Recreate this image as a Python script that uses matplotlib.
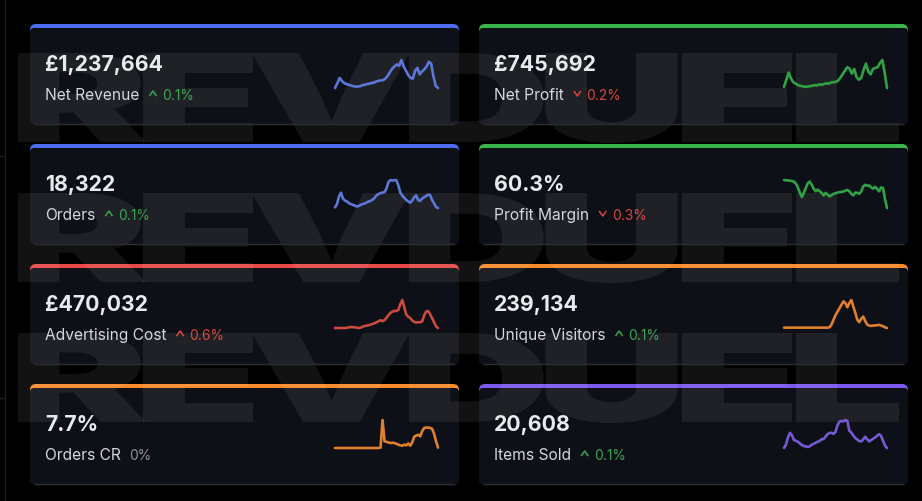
import matplotlib
matplotlib.use("Agg")
import matplotlib.pyplot as plt
from matplotlib.patches import FancyBboxPatch
from matplotlib.transforms import Affine2D
import matplotlib.patheffects as pe
import numpy as np

W, H = 922, 502

# ---------------- data ----------------
titles = ["Net Revenue", "Net Profit", "Orders", "Profit Margin",
          "Advertising Cost", "Unique Visitors", "Orders CR", "Items Sold"]
values = ["£1,237,664", "£745,692", "18,322", "60.3%",
          "£470,032", "239,134", "7.7%", "20,608"]
changes = ["0.1%", "0.2%", "0.1%", "0.3%", "0.6%", "0.1%", "0%", "0.1%"]
directions = ["up", "down", "up", "down", "up", "up", "flat", "up"]
change_tone = ["good", "bad", "good", "bad", "bad", "good", "neutral", "good"]

net_revenue = [2, 15, 30, 22, 16, 13, 11, 9, 7, 6, 6, 7, 10, 11, 13, 14, 16, 17, 20, 22,
               23, 24, 28, 36, 46, 56, 62, 68, 64, 80, 62, 50, 38, 30, 28, 50, 58, 40, 48,
               54, 62, 75, 70, 35, 8, 2]
net_profit = [5, 25, 45, 28, 18, 14, 10, 8, 7, 5, 6, 7, 8, 10, 9, 12, 11, 13, 15, 14, 17,
              18, 19, 22, 30, 40, 50, 60, 56, 42, 55, 32, 25, 30, 52, 70, 48, 40, 55, 58,
              60, 72, 80, 45, 2]
orders = [5, 15, 38, 50, 32, 26, 23, 18, 15, 13, 10, 8, 9, 13, 15, 17, 20, 23, 25, 29, 34,
          42, 46, 49, 50, 52, 63, 83, 89, 87, 89, 88, 72, 50, 41, 34, 28, 23, 19, 26, 36,
          42, 27, 25, 32, 36, 40, 44, 43, 28, 17, 6, 3]
profit_margin = [90, 89, 89, 88, 87, 85, 79, 67, 50, 37, 50, 65, 80, 85, 75, 63, 55, 60,
                 55, 50, 42, 50, 45, 39, 43, 47, 49, 51, 52, 53, 54, 57, 59, 55, 47, 42,
                 51, 50, 47, 55, 70, 75, 72, 73, 67, 63, 69, 62, 55, 67, 65, 30, 3]
advertising_cost = [5, 5, 5, 5, 5, 5, 5.5, 7, 8, 7.5, 7, 6, 5, 6, 9, 11, 12, 13, 15, 17,
                    19, 22, 25, 28, 25, 28, 35, 43, 49, 53, 55, 55, 58, 75, 87, 65, 44, 38,
                    34, 27, 23, 21, 22, 22, 24, 42, 53, 55, 46, 34, 22, 10, 5]
unique_visitors = [4, 4, 4, 4, 4, 4, 4, 4, 4, 4, 4, 4, 4, 4, 4, 4, 4, 4, 4, 4, 4, 4, 4, 5,
                   13, 27, 40, 50, 60, 70, 80, 75, 63, 75, 84, 65, 47, 27, 20, 30, 36, 23,
                   13, 10, 9, 10, 10.5, 11, 12, 10, 8, 5, 3]
orders_cr = [4, 4, 4, 4, 4, 4, 4, 4, 4, 4, 4, 4, 4, 4, 4, 4, 4, 4, 4, 4, 4, 4, 4, 5, 78,
             22, 20, 19, 17, 18, 17, 15, 13, 11, 10, 13, 11, 16, 10, 19, 34, 37, 39, 35,
             48, 57, 58, 58, 57, 55, 42, 22, 5]
items_sold = [3, 13, 35, 49, 42, 27, 25, 22, 17, 12, 9, 8, 6, 8, 13, 16, 19, 22, 24, 30,
              30, 38, 45, 49, 49, 46, 52, 72, 83, 85, 84, 88, 85, 55, 50, 41, 33, 29, 24,
              23, 29, 37, 30, 23, 27, 31, 35, 40, 45, 40, 25, 10, 3]

series = [net_revenue, net_profit, orders, profit_margin,
          advertising_cost, unique_visitors, orders_cr, items_sold]

# ---------------- style ----------------
accent_bar = ["#4f6cf0", "#3bb44a", "#4f6cf0", "#3bb44a",
              "#e84848", "#fa8a2a", "#fa8a2a", "#7b58ee"]
accent_line = ["#5d77d8", "#31a146", "#5d77d8", "#31a146",
               "#c94b3d", "#e0802f", "#e0802f", "#7759d4"]
tone_color = {"good": "#3aa552", "bad": "#d9473f", "neutral": "#8c929b"}

CARD_BG = "#0d1016"
FONT = ["Inter", "DejaVu Sans"]

col_x = [30, 479]
row_y = [25, 145, 265, 385]
card_w, card_h = 429, 100


class HStretch(pe.AbstractPathEffect):
    """Stretch a text horizontally about a fixed display x."""
    def __init__(self, sx, cx):
        super().__init__()
        self.sx = sx
        self.cx = cx

    def draw_path(self, renderer, gc, tpath, affine, rgbFace=None):
        a = affine + Affine2D().translate(-self.cx, 0).scale(self.sx, 1).translate(self.cx, 0)
        renderer.draw_path(gc, tpath, a, rgbFace)


fig = plt.figure(figsize=(W / 100, H / 100), dpi=100, facecolor="black")
bg = fig.add_axes([0, 0, 1, 1])
bg.set_xlim(0, W)
bg.set_ylim(H, 0)
bg.axis("off")

# left edge guide line and small ticks
bg.plot([4.5, 4.5], [0, H], color="#1b2027", lw=0.9, zorder=0.2)
for ty in [157, 399]:
    bg.plot([0, 4.5], [ty, ty], color="#1b2027", lw=0.9, zorder=0.2)

renderer = fig.canvas.get_renderer()

# ---------------- cards ----------------
for i in range(8):
    r, c = divmod(i, 2)
    x0, y0 = col_x[c], row_y[r]
    bar = FancyBboxPatch((x0, y0), card_w, card_h,
                         boxstyle="round,pad=0,rounding_size=6",
                         fc=accent_bar[i], ec="none", zorder=1)
    body = FancyBboxPatch((x0, y0 + 4), card_w, card_h - 4,
                          boxstyle="round,pad=0,rounding_size=4",
                          fc=CARD_BG, ec="none", zorder=1.1)
    bg.add_patch(bar)
    bg.add_patch(body)
    bg.plot([x0 + 4, x0 + card_w - 4], [y0 + card_h - 0.5] * 2,
            color="#2a2e35", lw=1.0, zorder=1.7, solid_capstyle="butt")

    # texts
    bg.text(x0 + 15, y0 + 46, values[i], family=FONT, fontsize=15.3, fontweight="bold",
            color="#e8eaee", va="baseline", ha="left", zorder=3)
    lab = bg.text(x0 + 15, y0 + 75, titles[i], family=FONT, fontsize=11.2,
                  color="#d3d7de", va="baseline", ha="left", zorder=3)
    bb = lab.get_window_extent(renderer)
    lab_right = bb.x1
    col = tone_color[change_tone[i]]
    if directions[i] == "flat":
        tx = lab_right + 8
    else:
        cx = lab_right + 10
        cy = y0 + 69.5
        if directions[i] == "up":
            xs, ys = [cx, cx + 3.6, cx + 7.2], [cy + 2.6, cy - 2.6, cy + 2.6]
        else:
            xs, ys = [cx, cx + 3.6, cx + 7.2], [cy - 2.6, cy + 2.6, cy - 2.6]
        bg.plot(xs, ys, color=col, lw=1.1, zorder=3,
                solid_joinstyle="miter", solid_capstyle="butt")
        tx = cx + 12.5
    bg.text(tx, y0 + 75, changes[i], family=FONT, fontsize=9.9, color=col,
            va="baseline", ha="left", zorder=3)

# ---------------- watermark ----------------
letters = "REVDUEL"
wm_kw = dict(family=FONT, fontsize=88, fontweight="black")
SX = 1.72
widths = []
for ch in letters:
    t = bg.text(0, 0, ch, **wm_kw)
    widths.append(t.get_window_extent(renderer).width * SX)
    t.remove()
gap = (897 - sum(widths)) / (len(letters) - 1)
for base in [143, 283, 423]:
    x = 8
    for ch, w in zip(letters, widths):
        bg.text(x, base, ch, color=(1, 1, 1, 0.075), va="baseline", ha="left",
                zorder=1.5, path_effects=[HStretch(SX, x)], **wm_kw)
        x += w + gap

# ---------------- sparklines ----------------
for i, s in enumerate(series):
    r, c = divmod(i, 2)
    x0, y0 = col_x[c], row_y[r]
    sx0, sx1 = x0 + 305, x0 + 408
    sy_top, sy_bot = y0 + 36, y0 + 64
    ax = fig.add_axes([sx0 / W, 1 - sy_bot / H, (sx1 - sx0) / W, (sy_bot - sy_top) / H])
    ax.plot(np.arange(len(s)), s, color=accent_line[i], lw=1.9,
            solid_joinstyle="round", solid_capstyle="round", clip_on=False)
    ax.set_xlim(0, len(s) - 1)
    ax.set_ylim(min(s), max(s))
    ax.axis("off")

fig.savefig("out.png", dpi=100, facecolor="black")
